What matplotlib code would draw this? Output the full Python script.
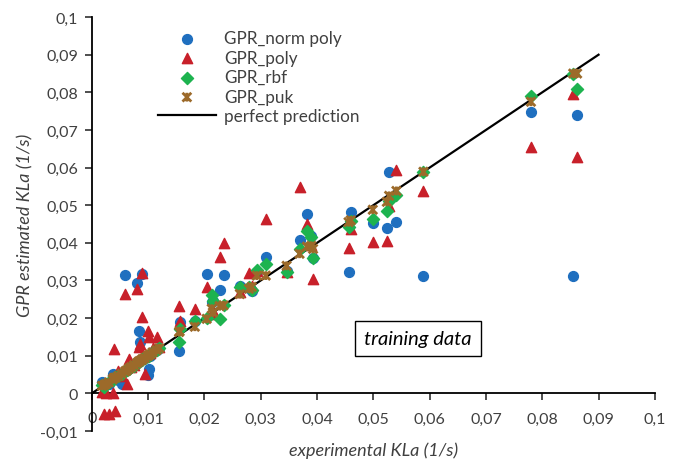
import matplotlib.pyplot as plt
from matplotlib.path import Path

# experimental KLa (1/s) and the four GPR estimates
experimental = [0.0018, 0.0022, 0.0025, 0.0030, 0.0037, 0.0039, 0.0042, 0.0047, 0.0053,
                0.0059, 0.0062, 0.0066, 0.0070, 0.0075, 0.0080, 0.0083, 0.0085, 0.0089,
                0.0090, 0.0094, 0.0099, 0.0101, 0.0104, 0.0108, 0.0115, 0.0120, 0.0155,
                0.0156, 0.0183, 0.0204, 0.0213, 0.0215, 0.0227, 0.0234, 0.0263, 0.0279,
                0.0284, 0.0293, 0.0309, 0.0346, 0.0369, 0.0382, 0.0393, 0.0390, 0.0456,
                0.0460, 0.0499, 0.0524, 0.0528, 0.0541, 0.0589, 0.0780, 0.0855, 0.0862]
gpr_norm_poly = [0.0030, 0.0020, 0.0028, 0.0026, 0.0052, 0.0040, 0.0045, 0.0035, 0.0025,
                 0.0315, 0.0062, 0.0068, 0.0072, 0.0078, 0.0294, 0.0166, 0.0137, 0.0090,
                 0.0317, 0.0095, 0.0049, 0.0065, 0.0100, 0.0110, 0.0115, 0.0120, 0.0113,
                 0.0190, 0.0193, 0.0318, 0.0243, 0.0245, 0.0275, 0.0315, 0.0286, 0.0280,
                 0.0272, 0.0323, 0.0363, 0.0324, 0.0408, 0.0477, 0.0360, 0.0419, 0.0323,
                 0.0482, 0.0453, 0.0440, 0.0589, 0.0456, 0.0312, 0.0748, 0.0313, 0.0740]
gpr_poly = [0.0004, -0.0055, 0.0000, -0.0054, 0.0000, 0.0118, -0.0047, 0.0060, 0.0045,
            0.0264, 0.0025, 0.0090, 0.0070, 0.0075, 0.0278, 0.0123, 0.0132, 0.0203,
            0.0319, 0.0052, 0.0166, 0.0150, 0.0108, 0.0120, 0.0150, 0.0124, 0.0232,
            0.0193, 0.0225, 0.0283, 0.0211, 0.0220, 0.0363, 0.0400, 0.0270, 0.0320,
            0.0285, 0.0325, 0.0464, 0.0323, 0.0549, 0.0451, 0.0304, 0.0395, 0.0387,
            0.0437, 0.0403, 0.0405, 0.0497, 0.0594, 0.0538, 0.0655, 0.0795, 0.0627]
gpr_rbf = [0.0022, 0.0018, 0.0026, 0.0030, 0.0036, 0.0040, 0.0043, 0.0046, 0.0052,
           0.0060, 0.0062, 0.0066, 0.0069, 0.0074, 0.0080, 0.0083, 0.0087, 0.0089,
           0.0092, 0.0094, 0.0098, 0.0100, 0.0105, 0.0110, 0.0116, 0.0120, 0.0137,
           0.0170, 0.0192, 0.0200, 0.0262, 0.0245, 0.0198, 0.0235, 0.0283, 0.0282,
           0.0275, 0.0328, 0.0344, 0.0323, 0.0384, 0.0432, 0.0360, 0.0415, 0.0443,
           0.0459, 0.0464, 0.0485, 0.0510, 0.0528, 0.0589, 0.0790, 0.0850, 0.0810]
gpr_puk = [0.0020, 0.0022, 0.0025, 0.0029, 0.0037, 0.0041, 0.0042, 0.0046, 0.0052,
           0.0058, 0.0061, 0.0066, 0.0070, 0.0075, 0.0080, 0.0084, 0.0086, 0.0089,
           0.0091, 0.0094, 0.0099, 0.0101, 0.0104, 0.0109, 0.0115, 0.0120, 0.0163,
           0.0165, 0.0177, 0.0198, 0.0225, 0.0215, 0.0232, 0.0234, 0.0264, 0.0278,
           0.0283, 0.0313, 0.0313, 0.0339, 0.0371, 0.0390, 0.0384, 0.0392, 0.0455,
           0.0460, 0.0488, 0.0509, 0.0525, 0.0538, 0.0589, 0.0775, 0.0850, 0.0850]

perfect_x = [0, 0.09]
xticks = [0, 0.01, 0.02, 0.03, 0.04, 0.05, 0.06, 0.07, 0.08, 0.09, 0.1]
xtick_labels = ['0', '0,01', '0,02', '0,03', '0,04', '0,05', '0,06', '0,07', '0,08', '0,09', '0,1']
yticks = [-0.01, 0, 0.01, 0.02, 0.03, 0.04, 0.05, 0.06, 0.07, 0.08, 0.09, 0.1]
ytick_labels = ['-0,01', '0', '0,01', '0,02', '0,03', '0,04', '0,05', '0,06', '0,07', '0,08', '0,09', '0,1']

plt.rcParams['font.family'] = ['Lato', 'DejaVu Sans']

# excel style star marker: an x with a vertical bar
star = Path([(-1, -1), (1, 1), (-1, 1), (1, -1), (0, -1), (0, 1)],
            [Path.MOVETO, Path.LINETO, Path.MOVETO, Path.LINETO, Path.MOVETO, Path.LINETO])

fig = plt.figure(figsize=(6.8, 4.64), dpi=100)
ax = fig.add_axes([0.135, 0.069, 0.828, 0.892])

ax.plot(perfect_x, perfect_x, color='black', lw=1.6, zorder=2, label='perfect prediction')
ax.scatter(experimental, gpr_norm_poly, s=50, marker='o', color='#1f6fbf', zorder=3, label='GPR_norm poly')
ax.scatter(experimental, gpr_poly, s=55, marker='^', color='#c8202a', zorder=3, label='GPR_poly')
ax.scatter(experimental, gpr_rbf, s=38, marker='D', color='#1db34f', zorder=4, label='GPR_rbf')
ax.scatter(experimental, gpr_puk, s=40, marker=star, facecolor='none', edgecolor='#9c6a2a',
           linewidths=2.0, zorder=5, label='GPR_puk')

ax.set_xlim(0, 0.1)
ax.set_ylim(-0.01, 0.1)
ax.spines['top'].set_visible(False)
ax.spines['right'].set_visible(False)
ax.spines['bottom'].set_position(('data', 0))
for s in ['left', 'bottom']:
    ax.spines[s].set_linewidth(1.3)

ax.set_xticks(xticks)
ax.set_xticklabels(xtick_labels)
ax.set_yticks(yticks)
ax.set_yticklabels(ytick_labels)
ax.tick_params(axis='x', direction='out', length=5, width=1.3, pad=8, labelsize=11.5, colors='#404040')
ax.tick_params(axis='y', direction='out', length=5, width=1.3, pad=5, labelsize=11.5, colors='#404040')
for t in ax.get_xticklines() + ax.get_yticklines():
    t.set_color('black')

ax.set_xlabel('experimental KLa (1/s)', style='italic', fontsize=13, color='#404040')
ax.set_ylabel('GPR estimated KLa (1/s)', style='italic', fontsize=13, color='#404040', labelpad=5)
ax.xaxis.set_label_coords(0.5, -0.025)

ax.text(0.0579, 0.0145, 'training data', style='italic', fontsize=14.5, color='black',
        ha='center', va='center',
        bbox=dict(boxstyle='square,pad=0.45', facecolor='white', edgecolor='black', lw=1.0))

handles, labels = ax.get_legend_handles_labels()
order = [1, 2, 3, 4, 0]
ax.legend([handles[i] for i in order], [labels[i] for i in order],
          loc='upper left', bbox_to_anchor=(0.09, 1.005), frameon=False,
          fontsize=12.3, handlelength=3.4, labelspacing=0.2, handletextpad=0.5,
          labelcolor='#404040')

fig.savefig('out.png', dpi=100)
